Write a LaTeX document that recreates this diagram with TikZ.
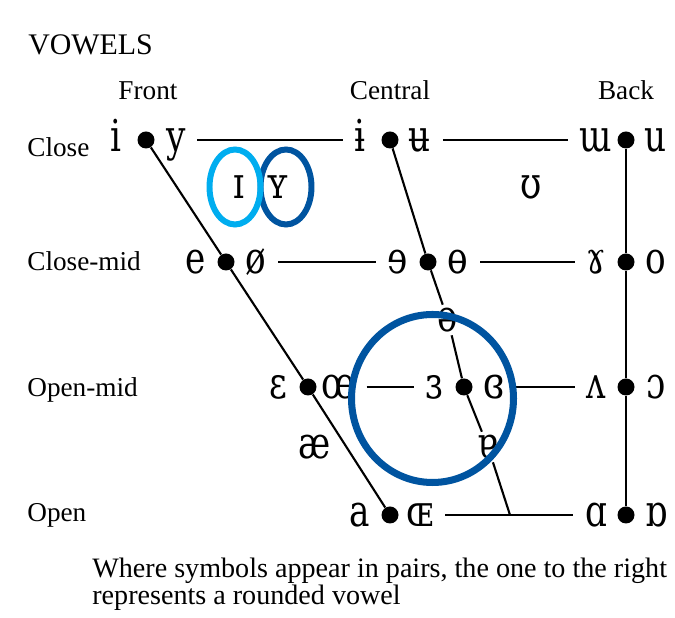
\documentclass[tikz,border=0pt]{standalone}
\usepackage{fontspec}
\setmainfont{Liberation Serif}
\newfontfamily\ipafont[FakeStretch=0.78]{DejaVu Serif}
\usepackage{xcolor}
\usetikzlibrary{positioning}
\definecolor{ringlight}{HTML}{00ADEF}
\definecolor{ringdark}{HTML}{0054A0}

\begin{document}
\begin{tikzpicture}[
    vdot/.style={circle, fill=black, inner sep=0pt, minimum size=0.34cm},
    vowel/.style={font=\ipafont\fontsize{25}{25}\selectfont,
                  text height=13pt, text depth=0pt, inner xsep=6.5pt, inner ysep=2pt},
    lab/.style={font=\fontsize{15.5}{15.5}\selectfont, inner sep=0pt},
    chart/.style={line width=1.2pt},
    ring/.style={line width=3.4pt},
    node distance=0.6cm, on grid
  ]
  \useasboundingbox (0,0) rectangle (13.5,12.36);

  % titles
  \node[lab, font=\fontsize{17}{17}\selectfont, anchor=base west] (title) at (0.56,11.26) {VOWELS};
  \node[lab, anchor=base] (front) at (2.96,10.36) {Front};
  \node[lab, anchor=base] (central) at (7.8,10.36) {Central};
  \node[lab, anchor=base] (back) at (12.52,10.36) {Back};
  \node[lab, anchor=base west] (close) at (0.54,9.22) {Close};
  \node[lab, anchor=base west] (closemid) at (0.54,6.94) {Close-mid};
  \node[lab, anchor=base west] (openmid) at (0.54,4.42) {Open-mid};
  \node[lab, anchor=base west] (open) at (0.54,1.92) {Open};

  % chart points
  \node[vdot] (cF) at (2.92,9.56) {};
  \node[vdot] (cC) at (7.8,9.56) {};
  \node[vdot] (cB) at (12.52,9.56) {};
  \node[vdot] (cmF) at (4.52,7.12) {};
  \node[vdot] (cmC) at (8.56,7.12) {};
  \node[vdot] (cmB) at (12.52,7.12) {};
  \node[vdot] (omF) at (6.16,4.62) {};
  \node[vdot] (omC) at (9.28,4.62) {};
  \node[vdot] (omB) at (12.52,4.62) {};
  \node[vdot] (oF) at (7.8,2.06) {};
  \node[vdot] (oB) at (12.52,2.06) {};
  \coordinate (jn) at (10.2,2.06);

  % vowel pairs
  \node[vowel, left=of cF] (iF) {i};
  \node[vowel, right=of cF] (yF) {y};
  \node[vowel, left=of cC] (iC) {ɨ};
  \node[vowel, right=of cC] (uC) {ʉ};
  \node[vowel, left=of cB] (mB) {ɯ};
  \node[vowel, right=of cB] (uB) {u};
  \node[vowel, left=of cmF] (eF) {e};
  \node[vowel, right=of cmF] (oeF) {ø};
  \node[vowel, left=of cmC] (eC) {ɘ};
  \node[vowel, right=of cmC] (oC) {ɵ};
  \node[vowel, left=of cmB] (gB) {ɤ};
  \node[vowel, right=of cmB] (oB2) {o};
  \node[vowel, left=of omF] (epsF) {ɛ};
  \node[vowel, right=of omF] (oelF) {œ};
  \node[vowel, left=of omC] (epsC) {ɜ};
  \node[vowel, right=of omC] (ceC) {ɞ};
  \node[vowel, left=of omB] (vB) {ʌ};
  \node[vowel, right=of omB] (cB2) {ɔ};
  \node[vowel, left=of oF] (aF) {a};
  \node[vowel, right=of oF] (OEF) {ɶ};
  \node[vowel, left=of oB] (aB) {ɑ};
  \node[vowel, right=of oB] (rB) {ɒ};

  % vowels off the grid
  \node[vowel] (Ism) at (4.78,8.61) {ɪ};
  \node[vowel] (Ysm) at (5.56,8.61) {ʏ};
  \node[vowel] (Ups) at (10.62,8.61) {ʊ};
  \node[vowel] (schwa) at (8.96,5.96) {ə};
  \node[vowel] (ash) at (6.3,3.42) {æ};
  \node[vowel] (turna) at (9.76,3.42) {ɐ};

  % chart lines
  \draw[chart] (cF) -- (cmF) -- (omF) -- (oF);
  \draw[chart] (cC) -- (cmC) -- (schwa) -- (omC) -- (turna) -- (jn);
  \draw[chart] (cB) -- (cmB) -- (omB) -- (oB);
  \draw[chart] (yF) -- (iC);
  \draw[chart] (uC) -- (mB);
  \draw[chart] (oeF) -- (eC);
  \draw[chart] (oC) -- (gB);
  \draw[chart] (oelF) -- (epsC);
  \draw[chart] (ceC) -- (vB);
  \draw[chart] (OEF) -- (aB);

  % highlighted vowels
  \draw[ring, ringdark] (5.72,8.62) ellipse [x radius=0.51cm, y radius=0.75cm];
  \draw[ring, ringlight] (4.7,8.62) ellipse [x radius=0.51cm, y radius=0.75cm];
  \draw[ring, ringdark, line width=4pt] (8.65,4.39) ellipse [x radius=1.62cm, y radius=1.68cm];

  \node[lab, font=\fontsize{16}{11.4}\selectfont, anchor=base west, align=left] (note) at (1.84,0.26)
    {Where symbols appear in pairs, the one to the right\\represents a rounded vowel};
\end{tikzpicture}
\end{document}
